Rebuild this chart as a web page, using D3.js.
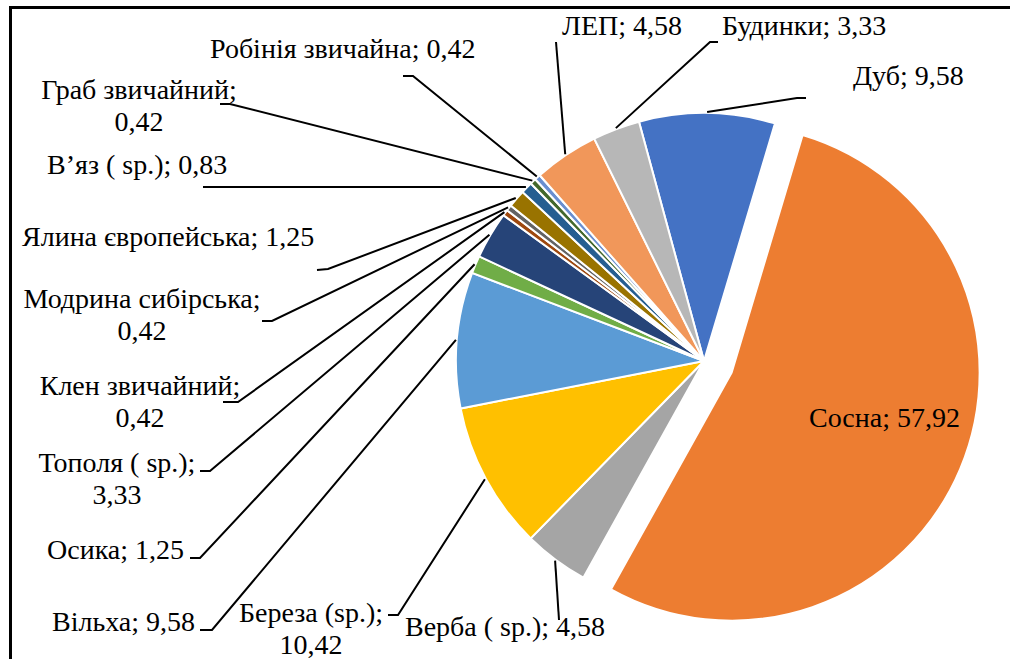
<!DOCTYPE html>
<html>
  <head>
    <meta charset="UTF-8" />
    <title>Pie chart</title>
    <style>
      body { margin: 0; background: #fff; }
    </style>
  </head>
  <body>
    <svg width="1010" height="659"></svg>
    <script src="https://d3js.org/d3.v7.min.js"></script>
    <script>
      // data, in the order Excel draws the slices (clockwise)
      const names = [
        "Дуб", "Сосна", "Верба ( sp.)", "Береза (sp.)", "Вільха", "Осика",
        "Тополя ( sp.)", "Клен звичайний", "Модрина сибірська", "Ялина європейська",
        "В’яз ( sp.)", "Граб звичайний", "Робінія звичайна", "ЛЕП", "Будинки"
      ];
      const values = [
        9.58, 57.92, 4.58, 10.42, 9.58, 1.25,
        3.33, 0.42, 0.42, 1.25,
        0.83, 0.42, 0.42, 4.58, 3.33
      ];
      const valueLabels = [
        "9,58", "57,92", "4,58", "10,42", "9,58", "1,25",
        "3,33", "0,42", "0,42", "1,25",
        "0,83", "0,42", "0,42", "4,58", "3,33"
      ];
      const colors = [
        "#4472C4", "#ED7D31", "#A5A5A5", "#FFC000", "#5B9BD5", "#70AD47",
        "#264478", "#9E480E", "#636363", "#997300",
        "#255E91", "#43682B", "#698ED0", "#F1975A", "#B7B7B7"
      ];
      const exploded = [false, true];

      // label layout: text x, first baseline, anchor, two-line?, leader elbow, leader end
      const labelLayout = [
        { x: 853, y: 85, anchor: "start", wrap: false, elbow: [797, 98], end: [806, 98] },
        { x: 809, y: 427, anchor: "start", wrap: false, inside: true },
        { x: 405, y: 636, anchor: "start", wrap: false, elbow: [559, 620], end: [559, 620] },
        { x: 311, y: 622, anchor: "middle", wrap: true, elbow: [398, 615], end: [388, 615] },
        { x: 52, y: 631, anchor: "start", wrap: false, elbow: [212, 630], end: [200, 630] },
        { x: 47, y: 559, anchor: "start", wrap: false, elbow: [200, 558], end: [190, 558] },
        { x: 117, y: 472, anchor: "middle", wrap: true, elbow: [210, 471], end: [200, 471] },
        { x: 140, y: 395, anchor: "middle", wrap: true, elbow: [238, 402], end: [223, 402] },
        { x: 142, y: 308, anchor: "middle", wrap: true, elbow: [272, 321], end: [262, 321] },
        { x: 22, y: 246, anchor: "start", wrap: false, elbow: [328, 269], end: [317, 270] },
        { x: 47, y: 174, anchor: "start", wrap: false, elbow: [203, 187], end: [203, 187] },
        { x: 139, y: 99, anchor: "middle", wrap: true, elbow: [230, 104], end: [220, 104] },
        { x: 210, y: 58, anchor: "start", wrap: false, elbow: [413, 76], end: [403, 76] },
        { x: 562, y: 35, anchor: "start", wrap: false, elbow: [556, 42], end: [556, 42] },
        { x: 722, y: 35, anchor: "start", wrap: false, elbow: [710, 42], end: [718, 42] }
      ];

      const svg = d3.select("svg");
      const cx = 704, cy = 361, radius = 248, explode = 30;
      const lineGap = 32;

      // frame (only the top and left edges show in the picture)
      svg.append("path")
        .attr("d", "M10.5,659V7.5H1010")
        .attr("fill", "none")
        .attr("stroke", "#000")
        .attr("stroke-width", 3);

      const rad = (deg) => (deg * Math.PI) / 180;
      const pie = d3.pie().sort(null).value((d) => d)
        .startAngle(rad(-15.2)).endAngle(rad(-15.2 + 360));
      const arcs = pie(values);
      const arc = d3.arc().innerRadius(0).outerRadius(radius);

      const offset = (a, i) => {
        if (!exploded[i]) return [0, 0];
        const m = (a.startAngle + a.endAngle) / 2;
        return [explode * Math.sin(m), -explode * Math.cos(m)];
      };

      const g = svg.append("g").attr("transform", `translate(${cx},${cy})`);

      g.selectAll("path.slice")
        .data(arcs)
        .enter()
        .append("path")
        .attr("class", "slice")
        .attr("d", arc)
        .attr("transform", (d, i) => `translate(${offset(d, i)})`)
        .attr("fill", (d, i) => colors[i])
        .attr("stroke", "#fff")
        .attr("stroke-width", 2);

      // leader lines from the outer edge at the middle of each slice
      const leaders = svg.append("g");
      arcs.forEach((a, i) => {
        const L = labelLayout[i];
        if (L.inside) return;
        const m = (a.startAngle + a.endAngle) / 2;
        const o = offset(a, i);
        const p0 = [cx + o[0] + (radius + 1) * Math.sin(m), cy + o[1] - (radius + 1) * Math.cos(m)];
        leaders.append("path")
          .attr("d", d3.line()([p0, L.elbow, L.end]))
          .attr("fill", "none")
          .attr("stroke", "#000")
          .attr("stroke-width", 2);
      });

      const labels = svg.append("g");
      arcs.forEach((a, i) => {
        const L = labelLayout[i];
        const t = labels.append("text")
          .attr("font-family", "Liberation Serif")
          .attr("font-size", 28)
          .attr("fill", "#000")
          .attr("x", L.x)
          .attr("y", L.y)
          .attr("text-anchor", L.anchor);
        if (L.wrap) {
          t.append("tspan").attr("x", L.x).text(names[i] + ";");
          t.append("tspan").attr("x", L.x).attr("dy", lineGap).text(valueLabels[i]);
        } else {
          t.text(names[i] + "; " + valueLabels[i]);
        }
      });
    </script>
  </body>
</html>
